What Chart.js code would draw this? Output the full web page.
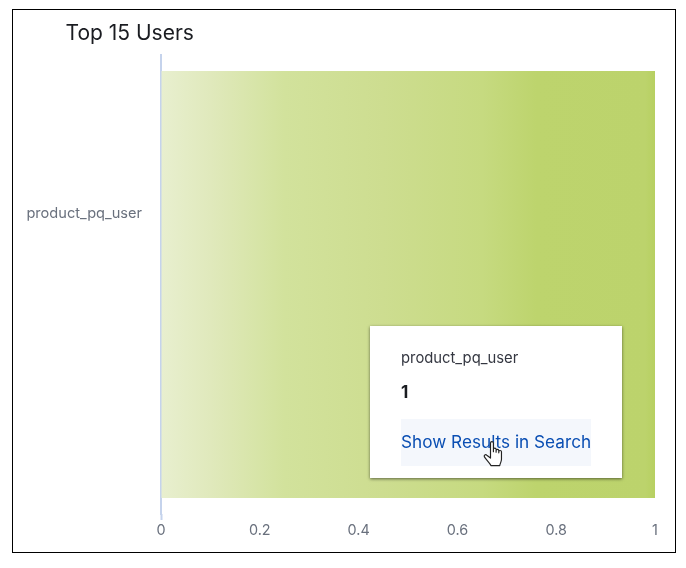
<!DOCTYPE html>
<html>
<head>
<meta charset="utf-8">
<title>Top 15 Users</title>
<script src="https://cdn.jsdelivr.net/npm/chart.js@4"></script>
<style>
  html, body { margin: 0; padding: 0; background: #fff; }
  body { width: 686px; height: 568px; position: relative; overflow: hidden; font-family: Inter, sans-serif; }
  .frame { position: absolute; left: 12px; top: 9px; width: 662px; height: 542px; border: 1px solid #000; pointer-events: none; }
  canvas { position: absolute; left: 0; top: 0; }
  .title { position: absolute; left: 65.5px; top: 20px; font-size: 21px; line-height: 26px; color: #1a1c21; }
  .tip { position: absolute; left: 370px; top: 326px; width: 252px; height: 152px; background: #fff; box-shadow: 0 1px 3px rgba(0,0,0,.55); }
  .tip .name { position: absolute; left: 31px; top: 24px; font-size: 14.8px; line-height: 17px; color: #343741; }
  .tip .val { position: absolute; left: 31px; top: 56px; font-size: 17px; line-height: 20px; font-weight: 700; color: #1a1c21; }
  .tip .link { position: absolute; left: 31px; top: 93px; width: 190px; height: 47px; line-height: 46px; background: #f4f7fc; color: #0b4fb3; font-size: 17.2px; white-space: nowrap; }
  .hand { position: absolute; left: 482px; top: 440px; }
</style>
</head>
<body>
<canvas id="chart" width="686" height="568"></canvas>
<div class="frame"></div>
<div class="title" id="title"></div>
<div class="tip">
  <div class="name" id="tipName"></div>
  <div class="val" id="tipVal"></div>
  <div class="link">Show Results in Search</div>
</div>
<svg class="hand" width="24" height="28" viewBox="0 0 20 24">
  <path d="M7 2.500c0-1.500 2.500-1.500 2.500 0V10l0-2c0-1.300 2.300-1.300 2.300 0v2.500-1.500c0-1.300 2.300-1.300 2.300 0v2-1c0-1.300 2.300-1.300 2.300 0v6.500c0 2-1 3-1.500 5.500H7.500C6.500 20 3 16.500 1.800 14.500c-.8-1.500 1-2.500 2-1.500L7 15.500z" fill="#fff" stroke="#222" stroke-width="1" stroke-linejoin="round"/>
</svg>
<script>
const categories = ['product_pq_user'];
const seriesValues = [1];
const xTicks = [0, 0.2, 0.4, 0.6, 0.8, 1];
const chartTitle = 'Top 15 Users';

document.getElementById('title').textContent = chartTitle;
// tooltip box is pinned open in the reference
document.getElementById('tipName').textContent = categories[0];
document.getElementById('tipVal').textContent = seriesValues[0];

function barGradient(ctx) {
  const area = ctx.chart.chartArea;
  if (!area) return '#bcd46c';
  const g = ctx.chart.ctx.createLinearGradient(area.left, 0, area.right, 0);
  g.addColorStop(0, '#e8efcf');
  g.addColorStop(0.1, '#e0e9bc');
  g.addColorStop(0.25, '#d2e29c');
  g.addColorStop(0.45, '#cddd90');
  g.addColorStop(0.65, '#c6da80');
  g.addColorStop(0.76, '#bdd46d');
  g.addColorStop(0.98, '#bcd36c');
  g.addColorStop(1, '#b7d061');
  return g;
}

document.addEventListener('DOMContentLoaded', () => {
  new Chart(document.getElementById('chart'), {
    type: 'bar',
    data: {
      labels: categories,
      datasets: [{ data: seriesValues, backgroundColor: barGradient, borderWidth: 0, barPercentage: 0.93, categoryPercentage: 1 }]
    },
    options: {
      indexAxis: 'y',
      responsive: false,
      animation: false,
      layout: { padding: { left: 0, right: 31, top: 55, bottom: 0 } },
      plugins: {
        legend: { display: false },
        tooltip: { enabled: false }
      },
      scales: {
        x: {
          min: 0,
          max: 1,
          afterBuildTicks: (scale) => { scale.ticks = xTicks.map(v => ({ value: v })); },
          afterFit: (scale) => { scale.height = 54; },
          border: { display: false },
          grid: {
            drawOnChartArea: false,
            tickLength: 6,
            tickWidth: 2,
            tickColor: (c) => c.index === 0 ? '#c5d3ec' : 'transparent'
          },
          ticks: { color: '#69707d', padding: 2, maxRotation: 0, callback: (v) => String(v), font: { family: 'Inter', size: 14.4 } }
        },
        y: {
          afterFit: (scale) => { scale.width = 161; },
          border: { color: '#c5d3ec', width: 2 },
          grid: { display: false, drawTicks: false },
          ticks: { color: '#69707d', padding: 19, labelOffset: -71, font: { family: 'Inter', size: 14.6 } }
        }
      }
    }
  });
});
</script>
</body>
</html>
